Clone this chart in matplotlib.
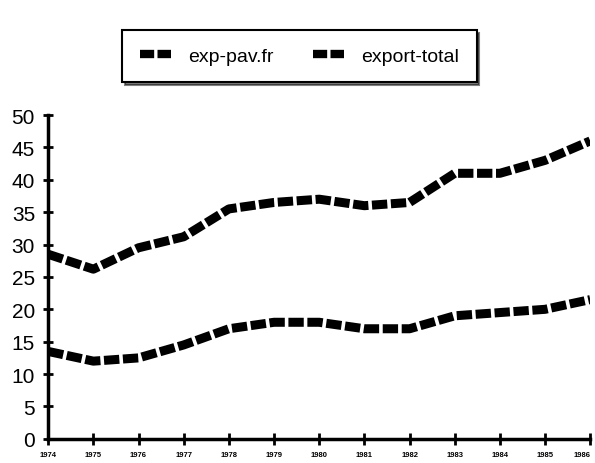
import matplotlib.pyplot as plt
import numpy as np

years = list(range(1974, 1987))
export_total = [28.5, 26.2, 29.5, 31.2, 35.5, 36.5, 37.0, 36.0, 36.5, 41.0, 41.0, 43.0, 46.0]
exp_pav_fr = [13.5, 12.0, 12.5, 14.5, 17.0, 18.0, 18.0, 17.0, 17.0, 19.0, 19.5, 20.0, 21.5]
y_ticks = list(range(0, 51, 5))

plt.rcParams['font.family'] = ['Liberation Sans', 'DejaVu Sans']

fig = plt.figure(figsize=(5.95, 4.64), dpi=100)
ax = fig.add_axes([0.081, 0.052, 0.911, 0.698])

ax.plot(years, exp_pav_fr, color='black', lw=6.5, ls=(0, (1.7, 0.4)),
        dash_capstyle='butt', label='exp-pav.fr')
ax.plot(years, export_total, color='black', lw=6.5, ls=(0, (1.7, 0.4)),
        dash_capstyle='butt', label='export-total')

ax.set_xlim(1974, 1986)
ax.set_ylim(0, 50)
ax.set_yticks(y_ticks)
ax.set_xticks(years)
ax.set_xticklabels([str(y) for y in years], fontsize=5.5, fontweight='bold')
ax.get_xticklabels()[-1].set_horizontalalignment('right')
ax.tick_params(axis='y', labelsize=15, direction='inout', length=7, width=2, pad=6)
ax.tick_params(axis='x', direction='inout', length=9, width=2, pad=4)
for s in ['top', 'right']:
    ax.spines[s].set_visible(False)
for s in ['left', 'bottom']:
    ax.spines[s].set_linewidth(2.5)

leg = fig.legend(loc='center', bbox_to_anchor=(0.503, 0.877), ncol=2, fontsize=14,
                 frameon=True, fancybox=False, edgecolor='black',
                 shadow={'color': 'black'}, handlelength=1.6, borderpad=0.9,
                 columnspacing=2.0, handletextpad=0.9)
leg.get_frame().set_linewidth(1.5)
for h in leg.get_lines():
    h.set_linewidth(6)

fig.savefig('out.png', dpi=100)
